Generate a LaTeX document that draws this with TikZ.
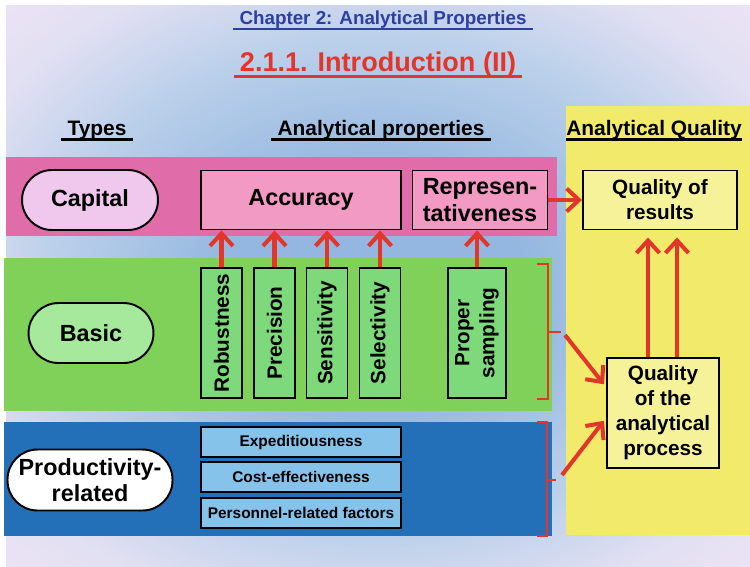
\documentclass[tikz,border=0pt]{standalone}
\usepackage{fontspec}
\setmainfont{Liberation Sans}
\usepackage{xcolor}
\usetikzlibrary{arrows.meta,positioning}

\definecolor{bgin}{HTML}{93B7E0}
\definecolor{bgmid}{HTML}{BBD0EA}
\definecolor{bgout}{HTML}{F2E6F6}
\definecolor{chapblue}{HTML}{2E3FA3}
\definecolor{titlered}{HTML}{E3352A}
\definecolor{arrowred}{HTML}{E3362A}
\definecolor{capband}{HTML}{E06DAA}
\definecolor{capfill}{HTML}{F0C8EE}
\definecolor{accfill}{HTML}{F39AC4}
\definecolor{basband}{HTML}{80D15A}
\definecolor{basfill}{HTML}{A6E89C}
\definecolor{propfill}{HTML}{7ED97A}
\definecolor{prodband}{HTML}{2370B8}
\definecolor{prodfill}{HTML}{86C3EA}
\definecolor{qualband}{HTML}{F1EA6A}
\definecolor{qualfill}{HTML}{F6F29A}

\pgfdeclareradialshading{slidebg}{\pgfpoint{0bp}{0bp}}{%
  color(0bp)=(bgin); color(10bp)=(bgin); color(22bp)=(bgmid);
  color(30bp)=(bgout!70!bgmid); color(40bp)=(bgout); color(50bp)=(bgout)}

\begin{document}
\begin{tikzpicture}[
  x=0.02cm, y=-0.02cm,
  >={Straight Barb[length=2.5mm,width=4.6mm]},
  box/.style={draw, line width=1.1pt, inner sep=1pt, align=center},
  pill/.style={box, minimum height=1.2cm, rounded corners=0.6cm},
  big/.style={font=\fontsize{13.3}{15.5}\selectfont\bfseries},
  mid/.style={font=\fontsize{11.8}{14.2}\selectfont\bfseries},
  small/.style={font=\fontsize{8.8}{10}\selectfont\bfseries},
  vbox/.style={box, mid, fill=propfill, minimum width=2.6cm, rotate=90},
  hbox/.style={box, small, fill=prodfill, minimum width=4cm, minimum height=0.6cm},
  head/.style={anchor=base, font=\fontsize{11.9}{14}\selectfont\bfseries},
  flow/.style={->, draw=arrowred, line width=2.3pt},
  bracket/.style={draw=arrowred, line width=0.9pt},
]
% background and coloured bands
\fill[white] (0,0) rectangle (750,566);
\shade[shading=slidebg] (6,5) rectangle (750,566);
\fill[capband] (6,157) rectangle (557,236);
\fill[basband] (4,258) rectangle (552,411);
\fill[prodband] (4,422) rectangle (552,536);
\fill[qualband] (566,106) rectangle (750,535);

% titles
\node[anchor=base, text=chapblue, font=\fontsize{10.7}{12}\selectfont\bfseries] (chap) at (383,24)
  {Chapter 2: Analytical Properties};
\draw[chapblue, line width=1.3pt] ([yshift=-3pt]chap.base west) -- ([yshift=-3pt]chap.base east);
\node[anchor=base, text=titlered, font=\fontsize{15.4}{17}\selectfont\bfseries] (intro) at (378,71)
  {2.1.1. Introduction (II)};
\draw[titlered, line width=1.7pt] ([yshift=-3pt]intro.base west) -- ([yshift=-3pt]intro.base east);

% column headers
\node[head] (types) at (97,135) {Types};
\node[head] (props) at (381,135) {Analytical properties};
\node[head, anchor=base west, inner xsep=0pt] (aq) at (566,135) {Analytical Quality};
\foreach \h in {types, props, aq}
  \draw[line width=1.3pt] ([yshift=-2.5pt]\h.base west) -- ([yshift=-2.5pt]\h.base east);

% capital properties
\node[pill, big, fill=capfill, minimum width=2.72cm] (capital) at (90,200) {Capital};
\node[box, big, fill=accfill, minimum width=4cm, minimum height=1.18cm] (acc) at (301,200) {Accuracy};
\node[box, big, fill=accfill, minimum width=2.7cm, minimum height=1.18cm] (rep) at (480,200)
  {Represen-\\tativeness};

% basic properties
\node[pill, big, fill=basfill, minimum width=2.5cm] (basic) at (91,333) {Basic};
\node[vbox, minimum height=0.82cm] (rob) at (221.5,333) {Robustness};
\node[vbox, minimum height=0.82cm] (prec) at (274.5,333) {Precision};
\node[vbox, minimum height=0.82cm] (sens) at (327,333) {Sensitivity};
\node[vbox, minimum height=0.82cm] (sel) at (380,333) {Selectivity};
\node[vbox, minimum height=1.16cm] (samp) at (477,333) {Proper\\sampling};

% productivity-related properties
\node[pill, big, fill=white, minimum width=3.3cm, minimum height=1.22cm,
  font=\fontsize{13.3}{14.5}\selectfont\bfseries] (prod) at (90,480) {Productivity-\\related};
\node[hbox] (exped) at (301,442) {Expeditiousness};
\node[hbox] (cost) at (301,477) {Cost-effectiveness};
\node[hbox] (pers) at (301,513) {Personnel-related factors};

% analytical quality
\node[box, mid, fill=qualfill, minimum width=3.08cm, minimum height=1.18cm] (qres) at (660,200)
  {Quality of\\results};
\node[box, mid, fill=qualfill, minimum width=2.24cm, minimum height=2.2cm] (qproc) at (663,413)
  {Quality\\of the\\analytical\\process};

% brackets
\draw[bracket] (537,264) -- (548,264) -- (548,399) -- (537,399);
\draw[bracket] (548,332) -- (561,332);
\draw[bracket] (537,422) -- (547,422) -- (547,536) -- (537,536);
\draw[bracket] (547,480) -- (556,480);
\coordinate (gb) at (565,335);
\coordinate (pb) at (562,475);

% arrows
\foreach \p in {rob, prec, sens, sel}
  \draw[flow] (\p.east) -- (\p.east |- acc.south);
\draw[flow] (samp.east) -- (samp.east |- rep.south);
\draw[flow] (rep.east) -- (qres.west);
\draw[flow] ([xshift=-0.3cm]qproc.north) -- ([xshift=-0.3cm, yshift=-4pt]qproc.north |- qres.south);
\draw[flow] ([xshift=0.28cm]qproc.north) -- ([xshift=0.28cm, yshift=-4pt]qproc.north |- qres.south);
\draw[flow, shorten >=2pt] (gb) -- ([yshift=0.52cm]qproc.west);
\draw[flow, shorten >=2pt] (pb) -- ([yshift=-0.1cm]qproc.west);
\end{tikzpicture}
\end{document}
